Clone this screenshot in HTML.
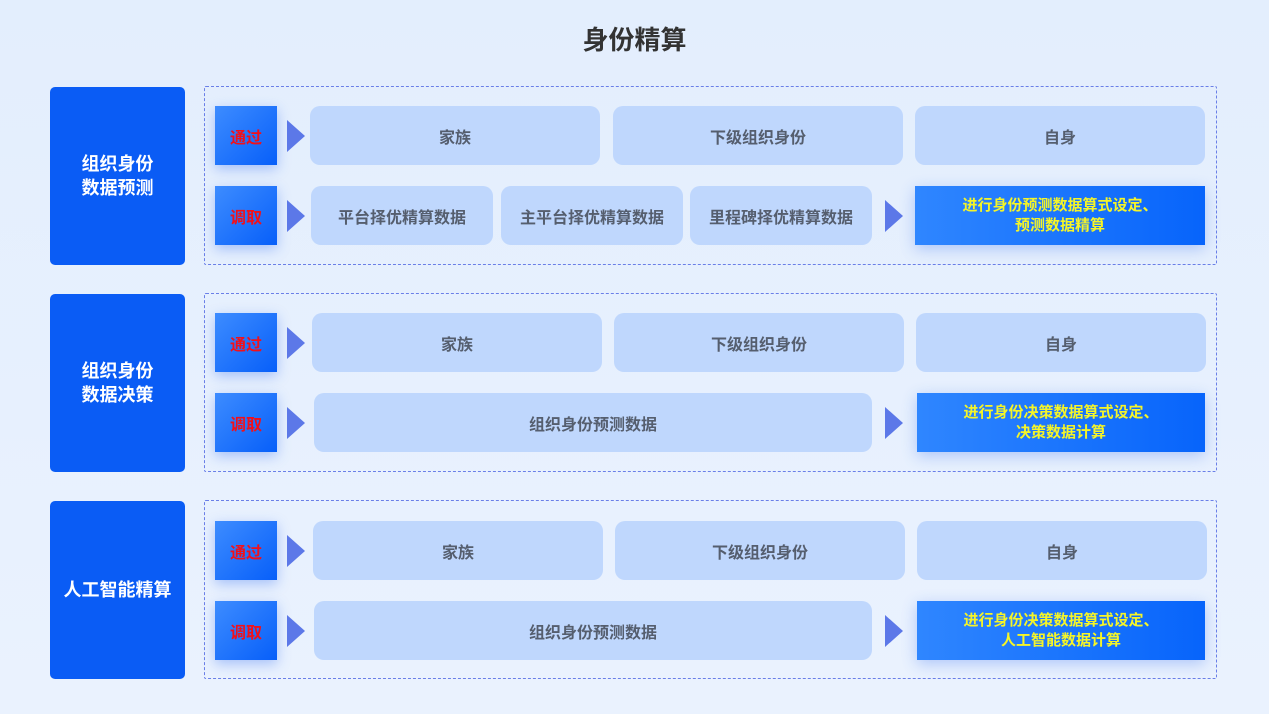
<!DOCTYPE html>
<html><head><meta charset="utf-8"><style>
body{margin:0;width:1269px;height:714px;background:linear-gradient(180deg,#e3eefd,#eaf2fe);font-family:"Liberation Sans","Noto Sans CJK SC",sans-serif;position:relative;overflow:hidden}
div{position:absolute;box-sizing:border-box}
.t{left:0;width:1269px;top:20px;text-align:center;font-size:26px;font-weight:bold;color:#333}
.l{left:50px;width:135px;height:178px;background:#0a5cf5;border-radius:5px;color:#fff;font-weight:bold;font-size:18px;display:flex;align-items:center;justify-content:center;text-align:center;line-height:24px}
.d{left:204px;width:1013px;height:179px;border:1.5px dashed #6a7fe8;border-radius:2px}
.g{left:215px;width:62px;height:59px;background:linear-gradient(135deg,#3d8cff,#075ff9);color:#f2101a;font-weight:bold;font-size:16px;display:flex;align-items:center;justify-content:center;box-shadow:0 4px 12px rgba(40,100,240,.35)}
.a{width:0;height:0;border-top:16px solid transparent;border-bottom:16px solid transparent;border-left:18px solid #5c78e8}
.c{height:59px;background:#bfd7fd;border-radius:10px;color:#555e6e;font-weight:bold;font-size:16px;display:flex;align-items:center;justify-content:center}
.b{height:59px;background:linear-gradient(90deg,#2f86ff,#0764fb);color:#f5f528;font-weight:bold;font-size:15px;display:flex;align-items:center;justify-content:center;text-align:center;line-height:20px;box-shadow:0 4px 14px rgba(40,100,240,.3)}
</style></head><body>
<div class="t">身份精算</div>

<div class="l" style="top:87px">组织身份<br>数据预测</div>
<div class="d" style="top:86px"></div>
<div class="g" style="top:106px">通过</div>
<div class="a" style="left:287px;top:120px"></div>
<div class="c" style="left:310px;width:290px;top:106px">家族</div>
<div class="c" style="left:613px;width:290px;top:106px">下级组织身份</div>
<div class="c" style="left:915px;width:290px;top:106px">自身</div>
<div class="g" style="top:186px">调取</div>
<div class="a" style="left:287px;top:200px"></div>
<div class="c" style="left:311px;width:182px;top:186px">平台择优精算数据</div>
<div class="c" style="left:501px;width:182px;top:186px">主平台择优精算数据</div>
<div class="c" style="left:690px;width:182px;top:186px">里程碑择优精算数据</div>
<div class="a" style="left:885px;top:200px"></div>
<div class="b" style="left:915px;width:290px;top:186px">进行身份预测数据算式设定、<br>预测数据精算</div>

<div class="l" style="top:294px">组织身份<br>数据决策</div>
<div class="d" style="top:293px"></div>
<div class="g" style="top:313px">通过</div>
<div class="a" style="left:287px;top:327px"></div>
<div class="c" style="left:312px;width:290px;top:313px">家族</div>
<div class="c" style="left:614px;width:290px;top:313px">下级组织身份</div>
<div class="c" style="left:916px;width:290px;top:313px">自身</div>
<div class="g" style="top:393px">调取</div>
<div class="a" style="left:287px;top:407px"></div>
<div class="c" style="left:314px;width:558px;top:393px">组织身份预测数据</div>
<div class="a" style="left:885px;top:407px"></div>
<div class="b" style="left:917px;width:288px;top:393px">进行身份决策数据算式设定、<br>决策数据计算</div>

<div class="l" style="top:501px">人工智能精算</div>
<div class="d" style="top:500px"></div>
<div class="g" style="top:521px">通过</div>
<div class="a" style="left:287px;top:535px"></div>
<div class="c" style="left:313px;width:290px;top:521px">家族</div>
<div class="c" style="left:615px;width:290px;top:521px">下级组织身份</div>
<div class="c" style="left:917px;width:290px;top:521px">自身</div>
<div class="g" style="top:601px">调取</div>
<div class="a" style="left:287px;top:615px"></div>
<div class="c" style="left:314px;width:558px;top:601px">组织身份预测数据</div>
<div class="a" style="left:885px;top:615px"></div>
<div class="b" style="left:917px;width:288px;top:601px">进行身份决策数据算式设定、<br>人工智能数据计算</div>
</body></html>
